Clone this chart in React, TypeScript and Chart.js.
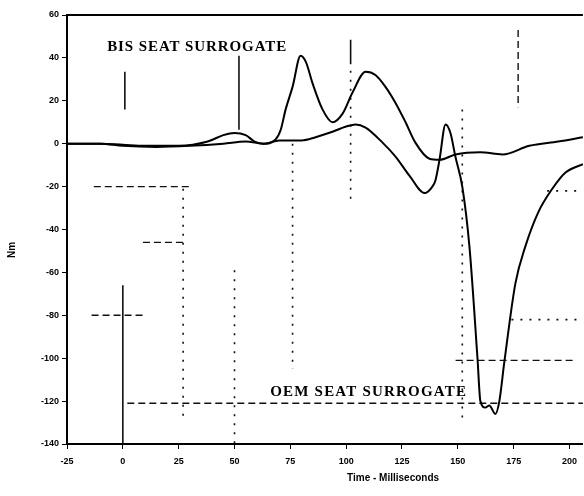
import React, { useEffect, useRef } from "react";
import { Chart, registerables } from "chart.js";

Chart.register(...registerables);

const xTicks = [-25, 0, 25, 50, 75, 100, 125, 150, 175, 200];
const yTicks = [-140, -120, -100, -80, -60, -40, -20, 0, 20, 40, 60];

// BIS seat surrogate (large double peak)
const bisX = [-25, -10, 0, 10, 25, 38, 45, 50, 55, 59, 63, 68.4, 70.7, 72.9, 76, 79.6, 82, 85, 89.4, 93.9, 98.4, 102.9, 108.7, 113.1, 117.6, 122.1, 126.6, 131, 137.3, 141.8, 149, 160, 170, 182, 195, 206];
const bisY = [0, 0, -0.5, -1, -1, 1, 4, 5, 4, 1, 0, 2, 6.5, 16, 26.5, 41, 38, 28, 16, 10, 14, 24, 33.5, 32, 26.5, 19, 10, 0.5, -7, -7.5, -5, -4, -5, -1, 1, 3];

// OEM seat surrogate (deep dip)
const oemX = [-25, -10, 0, 15, 30, 45, 55, 63, 70, 80, 86.3, 93.9, 100, 104.2, 108.7, 116.3, 122.1, 128.4, 135.1, 138.6, 140, 141.8, 144.5, 146.7, 148.9, 152, 155.2, 158.8, 160.1, 162.3, 164.1, 166.8, 168.6, 170.8, 175.8, 180.2, 186, 192.3, 198.1, 206];
const oemY = [0, 0, -1, -1.5, -1, 0, 1, 0, 1.5, 1.5, 3, 5.6, 8, 9, 7.5, 0.5, -6, -15, -23, -20, -17, -7.5, 9, 5, -6, -20, -48, -100, -120, -123, -122, -126, -120, -102, -65, -48, -32, -21, -13.5, -9.5];

// reference segments [x1, y1, x2, y2]
const solidSegments = [
  [0.9, 33.6, 0.9, 16],
  [0, -66, 0, -140],
  [52, 41, 52, 6.5],
  [102, 48.5, 102, 37],
];
const dashedSegments = [
  [177, 53, 177, 17],
  [-14, -80, 10, -80],
  [-13, -20, 31, -20],
  [9, -46, 27, -46],
  [2, -121, 206, -121],
  [149, -101, 202, -101],
];
const dottedSegments = [
  [27, -21, 27, -129],
  [50, -59, 50, -140],
  [76, 0, 76, -105],
  [102, 34, 102, -26],
  [152, 16, 152, -129],
  [174, -82, 206, -82],
  [190, -22, 206, -22],
];

const labels = [
  { text: "BIS SEAT SURROGATE", x: -7, y: 45 },
  { text: "OEM SEAT SURROGATE", x: 66, y: -116 },
];

function segDatasets(segs: number[][], dash: number[], width: number) {
  return segs.map((s) => ({
    type: "line" as const,
    data: [{ x: s[0], y: s[1] }, { x: s[2], y: s[3] }],
    borderColor: "#111",
    borderWidth: width,
    borderDash: dash,
    pointRadius: 0,
    fill: false,
    tension: 0,
  }));
}

export default function App() {
  const ref = useRef<HTMLCanvasElement | null>(null);
  useEffect(() => {
    if (!ref.current) return;
    const textPlugin = {
      id: "texts",
      afterDraw(chart: any) {
        const { ctx, scales, chartArea } = chart;
        ctx.save();
        ctx.strokeStyle = "#000";
        ctx.lineWidth = 2;
        ctx.beginPath();
        ctx.moveTo(chartArea.left, chartArea.top);
        ctx.lineTo(chartArea.right, chartArea.top);
        ctx.stroke();
        ctx.fillStyle = "#000";
        ctx.textAlign = "left";
        ctx.textBaseline = "middle";
        labels.forEach((l, i) => {
          ctx.font = "bold 15px 'Liberation Serif'";
          (ctx as any).letterSpacing = i === 0 ? "0.9px" : "1.2px";
          ctx.fillText(l.text, scales.x.getPixelForValue(l.x), scales.y.getPixelForValue(l.y));
        });
        (ctx as any).letterSpacing = "0px";
        ctx.font = "bold 10px 'Liberation Sans'";
        ctx.textAlign = "center";
        ctx.fillText("Time - Milliseconds", scales.x.getPixelForValue(121), 478);
        ctx.translate(12, 250);
        ctx.rotate(-Math.PI / 2);
        ctx.fillText("Nm", 0, 0);
        ctx.restore();
      },
    };
    const chart = new Chart(ref.current, {
      type: "line",
      data: {
        datasets: [
          {
            data: bisX.map((x, i) => ({ x, y: bisY[i] })),
            borderColor: "#000",
            borderWidth: 2,
            pointRadius: 0,
            cubicInterpolationMode: "monotone",
            fill: false,
          },
          {
            data: oemX.map((x, i) => ({ x, y: oemY[i] })),
            borderColor: "#000",
            borderWidth: 2,
            pointRadius: 0,
            cubicInterpolationMode: "monotone",
            fill: false,
          },
          ...segDatasets(solidSegments, [], 1.6),
          ...segDatasets(dashedSegments, [7, 4], 1.4),
          ...segDatasets(dottedSegments, [2, 7], 1.6),
        ] as any,
      },
      options: {
        animation: false,
        responsive: false,
        layout: { padding: { top: 15, right: 0, left: 0, bottom: 0 } },
        plugins: { legend: { display: false }, tooltip: { enabled: false } },
        scales: {
          x: {
            type: "linear",
            min: -25,
            max: 206,
            afterBuildTicks: (s: any) => {
              s.ticks = xTicks.map((v) => ({ value: v }));
            },
            afterFit: (s: any) => {
              s.height = 52;
            },
            border: { display: true, color: "#000", width: 2 },
            grid: { display: true, drawOnChartArea: false, drawTicks: true, tickLength: 5, color: "#000" },
            ticks: {
              color: "#000",
              padding: 7,
              maxRotation: 0,
              font: { family: "'Liberation Sans'", size: 9, weight: "bold" },
            },
          },
          y: {
            type: "linear",
            min: -140,
            max: 60,
            afterBuildTicks: (s: any) => {
              s.ticks = yTicks.map((v) => ({ value: v }));
            },
            afterFit: (s: any) => {
              s.width = 67;
            },
            border: { display: true, color: "#000", width: 2 },
            grid: { display: true, drawOnChartArea: false, drawTicks: true, tickLength: 5, color: "#000" },
            ticks: {
              color: "#000",
              padding: 3,
              font: { family: "'Liberation Sans'", size: 9, weight: "bold" },
            },
          },
        },
      },
      plugins: [textPlugin],
    } as any);
    return () => chart.destroy();
  }, []);
  return (
    <div style={{ position: "fixed", left: 0, top: 0, width: 584, height: 496, background: "#fff" }}>
      <canvas ref={ref} width={584} height={496} style={{ width: 584, height: 496 }} />
    </div>
  );
}
